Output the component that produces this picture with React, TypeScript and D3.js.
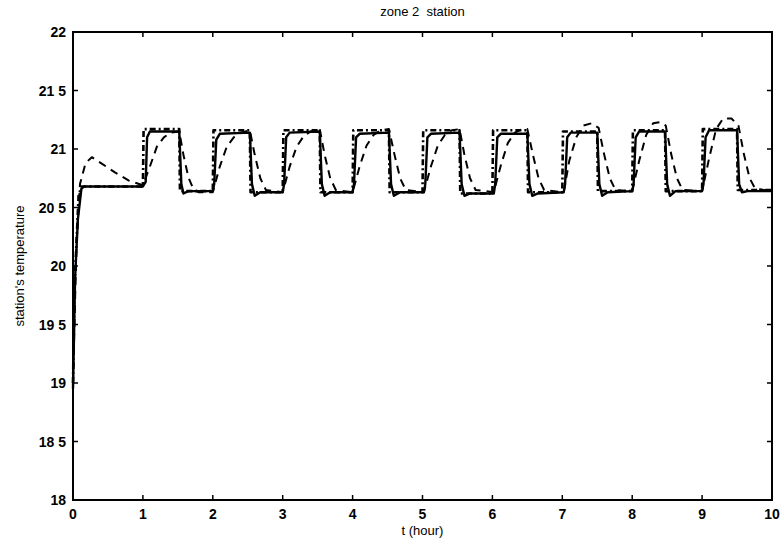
import React from "react";
import * as d3 from "d3";

const W = 782;
const H = 543;

const xTicks = [0, 1, 2, 3, 4, 5, 6, 7, 8, 9, 10];
const yTicks = [18, 18.5, 19, 19.5, 20, 20.5, 21, 21.5, 22];
const yTickLabels = ["18", "18 5", "19", "19 5", "20", "20 5", "21", "21 5", "22"];

const titleText = "zone 2  station";
const xLabel = "t (hour)";
const yLabel = "station's temperature";

// measured station temperature (solid)
const solidT = [0, 0.03, 0.07, 0.12, 0.16, 1.0, 1.04, 1.06, 1.1, 1.52, 1.55, 1.58, 1.65, 2.0,
  2.02, 2.05, 2.1, 2.53, 2.56, 2.6, 2.68, 3.0,
  3.02, 3.05, 3.1, 3.53, 3.56, 3.6, 3.68, 4.0,
  4.02, 4.05, 4.1, 4.52, 4.55, 4.59, 4.68, 5.02,
  5.04, 5.07, 5.12, 5.53, 5.56, 5.6, 5.68, 6.02,
  6.04, 6.07, 6.12, 6.5, 6.53, 6.57, 6.65, 7.02,
  7.04, 7.07, 7.12, 7.5, 7.53, 7.57, 7.65, 8.0,
  8.02, 8.05, 8.1, 8.47, 8.5, 8.54, 8.62, 9.0,
  9.02, 9.05, 9.1, 9.5, 9.53, 9.57, 9.65, 10];
const solidV = [18.95, 19.9, 20.4, 20.66, 20.68, 20.68, 20.72, 21.1, 21.15, 21.15, 20.7, 20.62, 20.64, 20.64,
  20.7, 21.08, 21.13, 21.14, 20.7, 20.6, 20.63, 20.63,
  20.7, 21.1, 21.14, 21.15, 20.7, 20.6, 20.63, 20.63,
  20.7, 21.1, 21.13, 21.14, 20.7, 20.6, 20.63, 20.63,
  20.7, 21.1, 21.13, 21.14, 20.7, 20.6, 20.62, 20.62,
  20.7, 21.1, 21.13, 21.13, 20.7, 20.6, 20.62, 20.63,
  20.7, 21.1, 21.14, 21.14, 20.7, 20.6, 20.63, 20.64,
  20.7, 21.1, 21.15, 21.15, 20.7, 20.6, 20.64, 20.64,
  20.7, 21.1, 21.16, 21.16, 20.7, 20.63, 20.64, 20.64];

// reference / setpoint tracking (dash-dot)
const refT = [0, 0.02, 0.08, 0.12, 1.0, 1.01, 1.52, 1.53, 2.0, 2.01, 2.53, 2.54, 3.0, 3.01, 3.53, 3.54,
  4.0, 4.01, 4.52, 4.53, 5.0, 5.01, 5.53, 5.54, 6.0, 6.01, 6.5, 6.51, 7.0, 7.01, 7.5, 7.51,
  8.0, 8.01, 8.47, 8.48, 9.0, 9.01, 9.5, 9.51, 10];
const refV = [19.0, 19.8, 20.6, 20.68, 20.68, 21.17, 21.17, 20.64, 20.64, 21.16, 21.16, 20.63, 20.63, 21.16, 21.16, 20.63,
  20.63, 21.16, 21.16, 20.63, 20.63, 21.16, 21.16, 20.62, 20.62, 21.16, 21.16, 20.63, 20.63, 21.15, 21.15, 20.64,
  20.64, 21.16, 21.16, 20.64, 20.64, 21.17, 21.17, 20.65, 20.65];

// model prediction (dashed, lagging)
const dashT = [0, 0.05, 0.1, 0.18, 0.27, 0.4, 0.6, 0.8, 1.0, 1.1, 1.2, 1.3, 1.4, 1.52, 1.58, 1.65, 1.72, 1.8, 2.0,
  2.1, 2.2, 2.3, 2.4, 2.53, 2.6, 2.68, 2.76, 3.0,
  3.1, 3.2, 3.3, 3.4, 3.53, 3.6, 3.68, 3.76, 4.0,
  4.1, 4.2, 4.3, 4.4, 4.52, 4.6, 4.68, 4.76, 5.02,
  5.12, 5.22, 5.32, 5.42, 5.53, 5.6, 5.68, 5.76, 6.02,
  6.12, 6.22, 6.32, 6.42, 6.5, 6.58, 6.66, 6.74, 7.02,
  7.1, 7.2, 7.3, 7.42, 7.52, 7.6, 7.68, 7.76, 8.0,
  8.1, 8.2, 8.3, 8.4, 8.48, 8.56, 8.64, 8.72, 9.0,
  9.1, 9.2, 9.3, 9.42, 9.52, 9.6, 9.68, 9.76, 10];
const dashV = [19.0, 20.2, 20.7, 20.88, 20.93, 20.88, 20.8, 20.73, 20.69, 20.85, 21.02, 21.1, 21.14, 21.15, 20.95, 20.76, 20.66, 20.63, 20.63,
  20.85, 21.02, 21.1, 21.14, 21.16, 20.95, 20.75, 20.65, 20.63,
  20.85, 21.02, 21.11, 21.15, 21.17, 20.95, 20.75, 20.65, 20.63,
  20.85, 21.03, 21.12, 21.16, 21.17, 20.95, 20.75, 20.65, 20.63,
  20.85, 21.03, 21.12, 21.16, 21.17, 20.95, 20.75, 20.65, 20.63,
  20.86, 21.05, 21.14, 21.17, 21.17, 20.95, 20.75, 20.65, 20.63,
  20.9, 21.1, 21.2, 21.22, 21.18, 20.95, 20.75, 20.65, 20.64,
  20.9, 21.12, 21.22, 21.23, 21.2, 20.95, 20.75, 20.65, 20.64,
  20.92, 21.17, 21.26, 21.26, 21.2, 20.95, 20.75, 20.66, 20.64];

const left = 73, right = 772, top = 32, bottom = 500;

export default function App() {
  const x = d3.scaleLinear().domain([0, 10]).range([left, right]);
  const y = d3.scaleLinear().domain([18, 22]).range([bottom, top]);
  const line = d3.line<[number, number]>().x(d => x(d[0])).y(d => y(d[1]));
  const zip = (t: number[], v: number[]) => t.map((tt, i) => [tt, v[i]] as [number, number]);
  const font = "'Liberation Sans', Arial, sans-serif";
  const tl = 5;
  return (
    <svg width={W} height={H} style={{ position: "absolute", left: 0, top: 0, background: "#fff" }}
      fontFamily={font}>
      <rect x={0} y={0} width={W} height={H} fill="#fff" />
      <g fill="none" stroke="#000" strokeLinejoin="round">
        <path d={line(zip(refT, refV)) || ""} strokeWidth={2.6} strokeDasharray="6 3 2 3" />
        <path d={line(zip(dashT, dashV)) || ""} strokeWidth={2} strokeDasharray="8 6" />
        <path d={line(zip(solidT, solidV)) || ""} strokeWidth={2.4} />
      </g>
      <rect x={left} y={top} width={right - left} height={bottom - top} fill="none" stroke="#000" strokeWidth={2} />
      <g stroke="#000" strokeWidth={1.5}>
        {xTicks.map(t => (
          <g key={"xt" + t}>
            <line x1={x(t)} x2={x(t)} y1={bottom} y2={bottom - tl} />
            <line x1={x(t)} x2={x(t)} y1={top} y2={top + tl} />
          </g>
        ))}
        {yTicks.map(v => (
          <g key={"yt" + v}>
            <line x1={left} x2={left + tl} y1={y(v)} y2={y(v)} />
            <line x1={right} x2={right - tl} y1={y(v)} y2={y(v)} />
          </g>
        ))}
      </g>
      <g fontSize={14} fontWeight="bold" fill="#000">
        {xTicks.map(t => (
          <text key={"xl" + t} x={x(t)} y={bottom + 19} textAnchor="middle">{t}</text>
        ))}
        {yTicks.map((v, i) => (
          <text key={"yl" + v} x={left - 7} y={y(v) + 5} textAnchor="end">{yTickLabels[i]}</text>
        ))}
      </g>
      <text x={(left + right) / 2} y={16} textAnchor="middle" fontSize={13} style={{ whiteSpace: "pre" }}>{titleText}</text>
      <text x={(left + right) / 2} y={535} textAnchor="middle" fontSize={13}>{xLabel}</text>
      <text transform={`translate(24,${(top + bottom) / 2}) rotate(-90)`} textAnchor="middle" fontSize={13}>{yLabel}</text>
    </svg>
  );
}
